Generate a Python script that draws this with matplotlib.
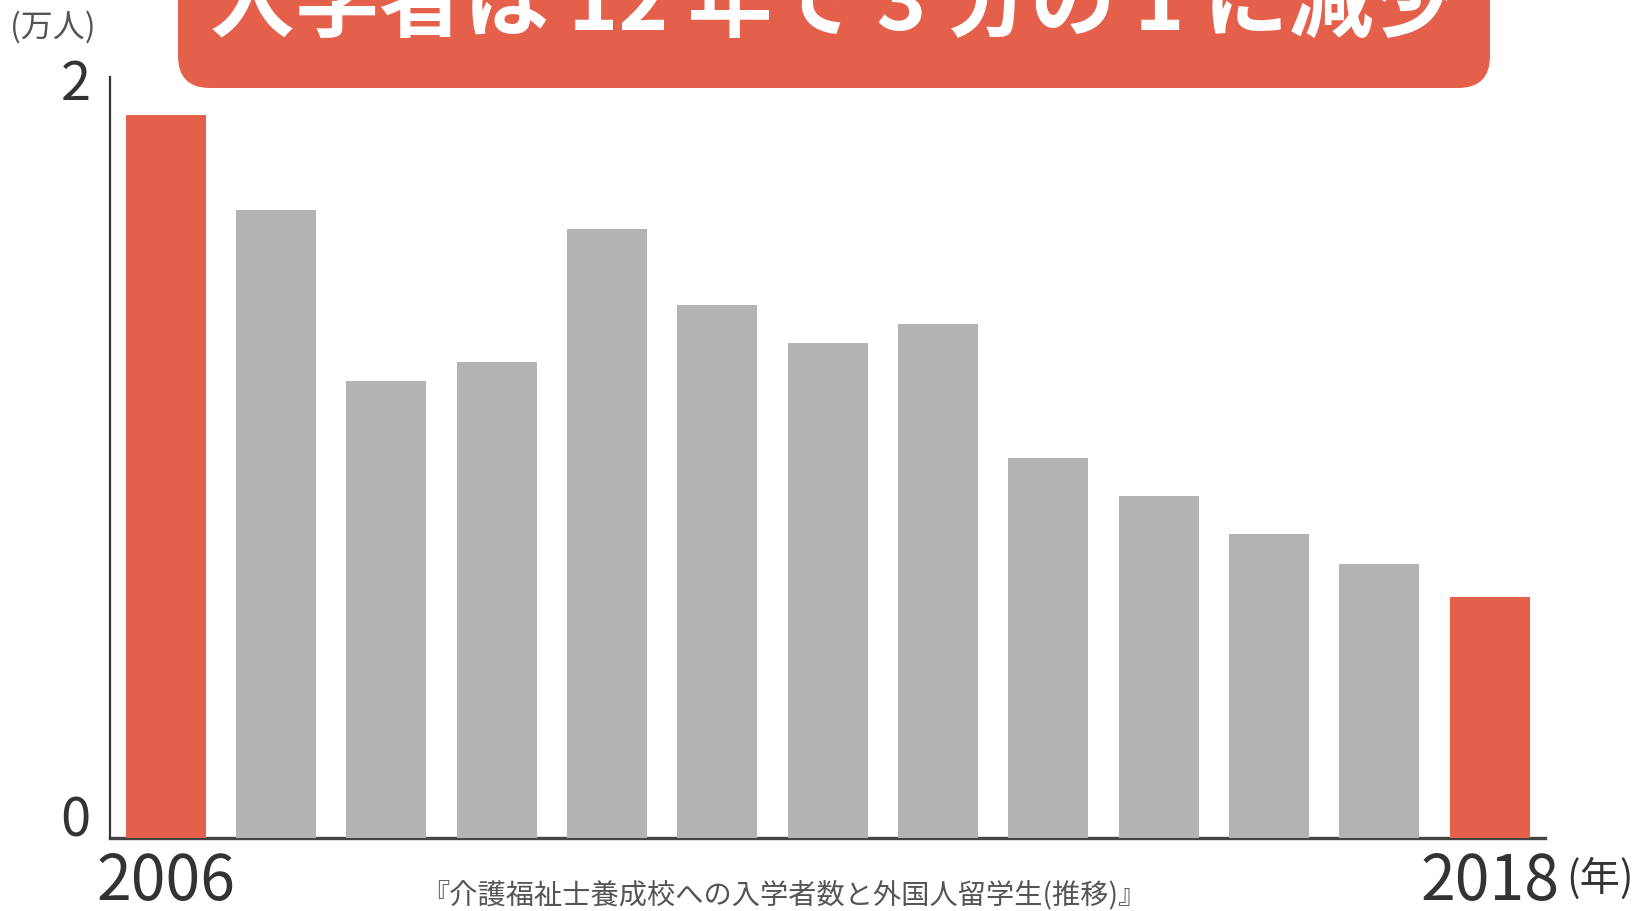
import numpy as np
import matplotlib
matplotlib.use("Agg")
import matplotlib.pyplot as plt
import matplotlib.patches as mpatches
from matplotlib.transforms import IdentityTransform, ScaledTranslation

plt.rcParams['font.family'] = ['Noto Sans CJK JP', 'DejaVu Sans']

# 介護福祉士養成校への入学者数 (万人), 2006 -> 2018
annees = [2006, 2007, 2008, 2009, 2010, 2011, 2012, 2013, 2014, 2015, 2016, 2017, 2018]
inscrits = [1.90, 1.65, 1.20, 1.25, 1.60, 1.40, 1.30, 1.35, 1.00, 0.90, 0.80, 0.72, 0.633]
labels_x = ['2006', '2018']
titre = '入学者は 12 年で 3 分の 1 に減少'
legende = '『介護福祉士養成校への入学者数と外国人留学生(推移)』'

rouge = '#E5604A'
gris = '#B3B3B3'
texte = '#333333'

fig = plt.figure(figsize=(16.45, 9.12), dpi=100)
ax = fig.add_axes([110 / 1645, 73 / 912, 1435 / 1645, 761 / 912])

x = np.arange(len(annees))
couleurs = [rouge if (i == 0 or i == len(annees) - 1) else gris for i in range(len(annees))]
ax.bar(x, inscrits, width=0.725, color=couleurs, zorder=1)

ax.set_xlim(-0.505, len(annees) - 0.5)
ax.set_ylim(0, 2)

for s in ['top', 'right']:
    ax.spines[s].set_visible(False)
ax.spines['left'].set_color('#333333')
ax.spines['left'].set_linewidth(1.6)
ax.spines['bottom'].set_color('#444444')
ax.spines['bottom'].set_linewidth(2.4)
ax.spines['bottom'].set_zorder(0.5)

ax.set_xticks([0, len(annees) - 1])
ax.set_xticklabels(labels_x, fontsize=45, color=texte)
ax.set_yticks([0, 2])
ax.set_yticklabels(['0', '2'], fontsize=39, color=texte)
ax.tick_params(axis='both', length=0)
ax.tick_params(axis='y', pad=14)
ax.tick_params(axis='x', pad=8)

# le "0" est remonté au-dessus de la ligne de base comme dans l'original
lab0 = ax.get_yticklabels()[0]
lab0.set_transform(lab0.get_transform() + ScaledTranslation(0, 17.6 / 72, fig.dpi_scale_trans))

fig.text(1566 / 1645, 1 - 879 / 912, '(年)', fontsize=29, color=texte, ha='left', va='center')
fig.text(10 / 1645, 1 - 27 / 912, '(万人)', fontsize=23, color='#555555', ha='left', va='center')

# bandeau du titre
bandeau = mpatches.FancyBboxPatch((178, 912 - 89), 1312, 200,
                                  boxstyle='round,pad=0,rounding_size=32',
                                  transform=IdentityTransform(), facecolor=rouge,
                                  edgecolor='none', zorder=3)
fig.patches.append(bandeau)
fig.text(834 / 1645, 1 - 30 / 912, titre, fontsize=61, fontweight='bold', color='white',
         ha='center', va='baseline', zorder=4)

fig.text(784 / 1645, 1 - 896 / 912, legende, fontsize=20.3, style='italic', color='#555555',
         ha='center', va='center')

fig.savefig('out.png', dpi=100)
